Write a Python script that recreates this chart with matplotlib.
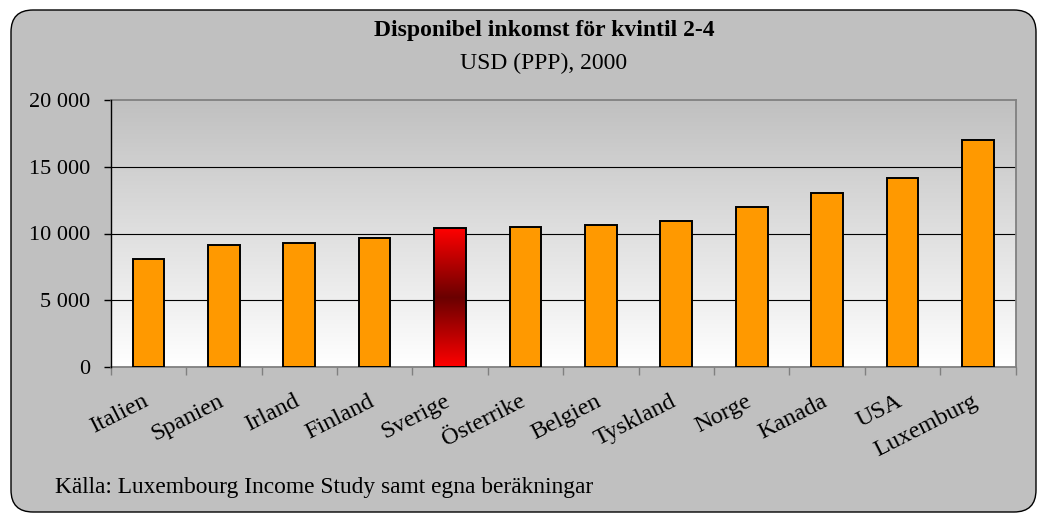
import matplotlib
matplotlib.use("Agg")
import matplotlib.pyplot as plt
import matplotlib.transforms as mtransforms
import numpy as np
from matplotlib.patches import FancyBboxPatch
from matplotlib.colors import LinearSegmentedColormap

plt.rcParams['font.family'] = ['Liberation Serif', 'DejaVu Serif']

categories = ["Italien", "Spanien", "Irland", "Finland", "Sverige", "Österrike",
              "Belgien", "Tyskland", "Norge", "Kanada", "USA", "Luxemburg"]
values = [8100, 9150, 9300, 9650, 10400, 10500, 10600, 10950, 12000, 13000, 14150, 17000]
highlight = "Sverige"
y_ticks = [0, 5000, 10000, 15000, 20000]
y_tick_labels = ["0", "5 000", "10 000", "15 000", "20 000"]
title = "Disponibel inkomst för kvintil 2-4"
subtitle = "USD (PPP), 2000"
source = "Källa: Luxembourg Income Study samt egna beräkningar"

W, H = 1038, 513
fig = plt.figure(figsize=(W / 100, H / 100), dpi=100)
fig.patch.set_facecolor("white")

# chart area frame (rounded)
frame = FancyBboxPatch((11 / 100, 1 / 100), 1025 / 100, 502 / 100,
                       boxstyle="round,pad=0,rounding_size=0.22",
                       transform=fig.dpi_scale_trans, facecolor="#C0C0C0",
                       edgecolor="black", linewidth=1.0, zorder=-5)
fig.patches.append(frame)

ax = fig.add_axes([110.7 / W, 1 - 367 / H, (1015.7 - 110.7) / W, (367 - 100) / H])
ax.set_zorder(1)
ax.set_facecolor("none")

x = np.arange(len(categories))

# plot-area gradient (gray top -> white bottom)
grad = np.linspace(0, 1, 256).reshape(-1, 1)
bg_cmap = LinearSegmentedColormap.from_list("bg", ["#FFFFFF", "#C0C0C0"])
ax.imshow(grad, aspect="auto", cmap=bg_cmap, origin="lower",
          extent=[0, 1, 0, 1], transform=ax.transAxes, zorder=0)

# gridlines
for t in y_ticks[1:-1]:
    ax.axhline(t, color="black", linewidth=0.8, zorder=1)

colors = ["#FF9900" if c != highlight else "none" for c in categories]
bars = ax.bar(x, values, width=0.42, color=colors, edgecolor="black",
              linewidth=1.4, zorder=3)

# gradient fill for highlighted bar
red_cmap = LinearSegmentedColormap.from_list("red", ["#FF0000", "#6A0000", "#FF0000"])
for b, c in zip(bars, categories):
    if c == highlight:
        bx, bw, bh = b.get_x(), b.get_width(), b.get_height()
        im = ax.imshow(np.linspace(0, 1, 256).reshape(-1, 1), aspect="auto",
                       cmap=red_cmap, extent=[bx, bx + bw, 0, bh], zorder=2)
        im.set_clip_path(b)
ax.set_xlim(-0.5, len(categories) - 0.5)
ax.set_ylim(0, 20000)

# spines
ax.spines["left"].set_color("black")
ax.spines["left"].set_linewidth(1.0)
for s in ["top", "right", "bottom"]:
    ax.spines[s].set_color("#808080")
    ax.spines[s].set_linewidth(1.3)
ax.spines["left"].set_zorder(4)

ax.set_yticks(y_ticks)
ax.set_yticklabels(y_tick_labels, fontsize=16)
ax.tick_params(axis="y", direction="out", length=5, width=1, color="black", pad=10)

ax.set_xticks(x)
ax.set_xticklabels(categories, fontsize=17.5, rotation=27, ha="right", va="top",
                   rotation_mode="anchor")
ax.tick_params(axis="x", which="major", length=0, pad=17)
shift = mtransforms.ScaledTranslation(-6 / 100, 0, fig.dpi_scale_trans)
for lbl in ax.get_xticklabels():
    lbl.set_transform(lbl.get_transform() + shift)
ax.set_xticks(np.arange(len(categories) + 1) - 0.5, minor=True)
ax.tick_params(axis="x", which="minor", direction="out", length=6, width=1, color="#808080")

fig.text(544 / W, 1 - 31 / H, title, fontsize=17, fontweight="bold",
         ha="center", va="center")
fig.text(544 / W, 1 - 63 / H, subtitle, fontsize=17, ha="center", va="center")
fig.text(55 / W, 1 - 487 / H, source, fontsize=16.8, ha="left", va="center")

fig.savefig("out.png", dpi=100)
